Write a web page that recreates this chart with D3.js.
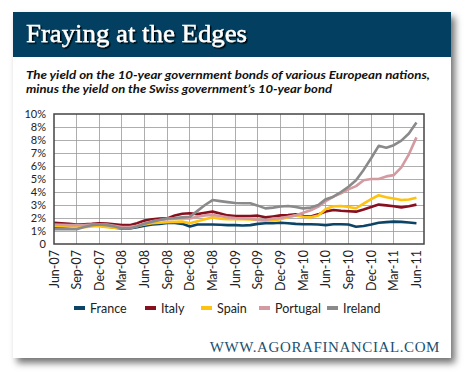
<html>
<head>
<style>
  body { margin: 0; background: #fff; }
  .grid line { stroke: #9a9a9a; stroke-width: 0.8px; shape-rendering: crispEdges; }
  .ylab, .xlab, .leg { font-family: Lato, "Open Sans", sans-serif; font-size: 12.5px; fill: #222; }
  .ylab { font-size: 11px; }
</style>
<script src="https://cdnjs.cloudflare.com/ajax/libs/d3/7.8.5/d3.min.js"></script>
</head>
<body>
<script>
var width = 469, height = 377;

// months since Jun-07
var xLabels = ["Jun-07","Sep-07","Dec-07","Mar-08","Jun-08","Sep-08","Dec-08","Mar-08","Jun-09",
               "Sep-09","Dec-09","Mar-10","Jun-10","Sep-10","Dec-10","Mar-11","Jun-11"];
var yLabels = ["0","1%","2%","3%","4%","5%","6%","7%","8%","8%","10%"];
var countries = ["France","Italy","Spain","Portugal","Ireland"];
var colors = ["#0b4466","#86101d","#ffc20e","#d39aa0","#8a8a8a"];

var france = [1.35,1.35,1.35,1.35,1.4,1.42,1.4,1.35,1.25,1.2,1.2,1.3,1.4,1.5,1.55,1.62,1.62,1.55,1.35,1.5,
              1.5,1.5,1.48,1.45,1.45,1.42,1.45,1.55,1.6,1.6,1.64,1.6,1.55,1.52,1.52,1.5,1.45,1.52,1.52,1.5,
              1.33,1.38,1.5,1.64,1.68,1.72,1.7,1.65,1.6];
var italy = [1.64,1.6,1.55,1.5,1.52,1.55,1.6,1.58,1.52,1.45,1.45,1.6,1.8,1.9,1.95,1.97,2.2,2.33,2.36,2.3,
             2.4,2.49,2.35,2.2,2.15,2.15,2.15,2.18,2.05,2.12,2.2,2.22,2.28,2.15,2.12,2.28,2.5,2.62,2.56,2.52,
             2.49,2.65,2.85,3.03,2.97,2.9,2.82,2.9,3.03];
var spain = [1.4,1.38,1.35,1.3,1.3,1.35,1.38,1.3,1.25,1.25,1.25,1.38,1.5,1.6,1.64,1.68,1.7,1.72,1.6,1.75,
             1.9,2.05,1.95,1.9,1.9,1.9,1.88,1.85,1.8,1.82,1.9,2.05,2.2,2.1,2.05,2.2,2.7,2.9,2.92,2.85,
             2.75,3.1,3.45,3.75,3.6,3.5,3.38,3.42,3.56];
var portugal = [1.5,1.48,1.45,1.45,1.45,1.5,1.5,1.5,1.4,1.3,1.3,1.4,1.6,1.75,1.85,1.9,1.95,1.97,1.97,2.1,
                2.2,2.23,2.15,2.05,2.0,1.97,1.95,1.85,1.85,1.95,2.0,2.1,2.2,2.4,2.6,2.87,3.3,3.64,3.9,4.2,
                4.45,4.9,5.0,5.0,5.2,5.3,5.9,6.9,8.2];
var ireland = [1.13,1.13,1.13,1.13,1.3,1.45,1.5,1.45,1.35,1.2,1.2,1.35,1.55,1.72,1.85,1.97,2.0,2.05,2.1,2.55,
               3.0,3.38,3.3,3.22,3.15,3.13,3.13,2.95,2.74,2.8,2.88,2.92,2.85,2.74,2.8,3.0,3.45,3.64,4.0,4.4,
               4.9,5.7,6.6,7.55,7.4,7.6,7.95,8.5,9.35];
var series = [france, italy, spain, portugal, ireland];

var svg = d3.select("body").append("svg")
    .attr("width", width).attr("height", height);

var defs = svg.append("defs");
var f = defs.append("filter").attr("id", "shadow")
    .attr("x", "-10%").attr("y", "-10%").attr("width", "130%").attr("height", "130%");
f.append("feDropShadow").attr("dx", 4).attr("dy", 5).attr("stdDeviation", 3.5)
    .attr("flood-color", "#000").attr("flood-opacity", 0.55);
var ts = defs.append("filter").attr("id", "tshadow");
ts.append("feDropShadow").attr("dx", 1.5).attr("dy", 1.5).attr("stdDeviation", 0.6)
    .attr("flood-color", "#000").attr("flood-opacity", 0.9);

// card
svg.append("rect").attr("x", 13).attr("y", 12).attr("width", 438).attr("height", 346)
    .attr("fill", "#fff").attr("filter", "url(#shadow)");
svg.append("rect").attr("x", 13).attr("y", 12).attr("width", 438).attr("height", 45)
    .attr("fill", "#023f60");

svg.append("text").attr("x", 26).attr("y", 42)
    .attr("font-family", "Liberation Serif, serif").attr("font-size", 26)
    .attr("fill", "#fff").attr("filter", "url(#tshadow)")
    .attr("stroke", "#fff").attr("stroke-width", 0.4)
    .attr("textLength", 221).attr("lengthAdjust", "spacingAndGlyphs")
    .text("Fraying at the Edges");

var sub = ["The yield on the 10-year government bonds of various European nations,",
           "minus the yield on the Swiss government\u2019s 10-year bond"];
var subLen = [404, 306];
sub.forEach(function(s, i) {
    svg.append("text").attr("x", 26).attr("y", 79 + i * 13.5)
        .attr("font-family", "Lato, sans-serif").attr("font-size", 11.5)
        .attr("font-weight", "bold").attr("font-style", "italic").attr("fill", "#111")
        .attr("textLength", subLen[i]).attr("lengthAdjust", "spacingAndGlyphs")
        .text(s);
});

// plot
var x = d3.scaleLinear().domain([0, 49]).range([54, 424]);
var y = d3.scaleLinear().domain([0, 10]).range([244, 114]);

var grid = svg.append("g").attr("class", "grid");
grid.selectAll(".h").data(d3.range(1, 10)).enter().append("line")
    .attr("x1", x(0)).attr("x2", x(49)).attr("y1", d => y(d)).attr("y2", d => y(d));
grid.selectAll(".v").data(d3.range(1, 16)).enter().append("line")
    .attr("y1", y(0)).attr("y2", y(10)).attr("x1", d => x(d * 3)).attr("x2", d => x(d * 3));

svg.selectAll(".ylab").data(yLabels).enter().append("text").attr("class", "ylab")
    .attr("x", 46).attr("y", (d, i) => y(i) + 4).attr("text-anchor", "end").text(d => d);

svg.selectAll(".xlab").data(xLabels).enter().append("text").attr("class", "xlab")
    .attr("text-anchor", "end")
    .attr("transform", (d, i) => "translate(" + (x(i * 3) + 4.5) + "," + 250 + ") rotate(-90)")
    .text(d => d);

var line = d3.line().x((d, i) => x(i)).y(d => y(d));
svg.selectAll(".series").data(series).enter().append("path")
    .attr("d", line).attr("fill", "none")
    .attr("stroke", (d, i) => colors[i]).attr("stroke-width", 2.6)
    .attr("stroke-linejoin", "round");

svg.append("rect").attr("x", x(0)).attr("y", y(10)).attr("width", x(49) - x(0)).attr("height", y(0) - y(10))
    .attr("fill", "none").attr("stroke", "#444").attr("stroke-width", 1.5);

// legend
var legX = [74, 145, 201, 259, 327];
var leg = svg.selectAll(".legItem").data(countries).enter().append("g")
    .attr("transform", (d, i) => "translate(" + legX[i] + ",306)");
leg.append("rect").attr("width", 11).attr("height", 4).attr("fill", (d, i) => colors[i]);
leg.append("text").attr("class", "leg").attr("x", 16).attr("y", 6.5).text(d => d);

svg.append("text").attr("x", 440).attr("y", 352).attr("text-anchor", "end")
    .attr("font-family", "Liberation Serif, serif").attr("font-size", 15)
    .attr("fill", "#1c4f6f").attr("letter-spacing", 0.6)
    .text("WWW.AGORAFINANCIAL.COM");
</script>
</body>
</html>
